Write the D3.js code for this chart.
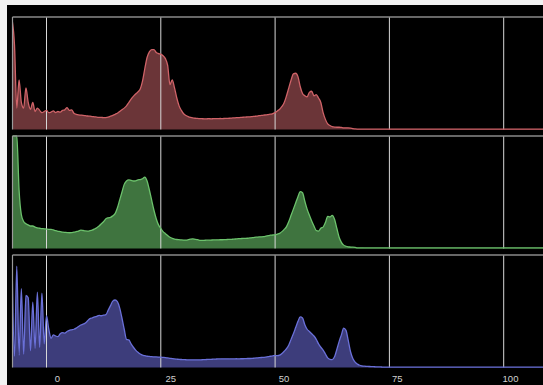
<!DOCTYPE html>
<html><head><meta charset="utf-8">
<script src="https://cdn.jsdelivr.net/npm/d3@7/dist/d3.min.js"></script>
<style>
html,body{margin:0;padding:0;background:#f2f2f2;}
svg{display:block;}
</style></head>
<body>
<svg id="chart" width="543" height="385"></svg>
<script>
// x sample positions: start and step (in axis units)
const sampleStart = -7.5;
const sampleStep = 0.5;
const domainEnd = 110;

const redValues = [97,75,19,44,24,19,37,24,18,24,16,19,17,15,16,17,15,15.5,16.5,15,
16,15.5,17,17.5,19.5,17,17.5,14.5,13.5,13,12.8,12.6,12.3,12,11.8,11.5,11.3,11,10.8,10.7,
10.6,10.6,11,11.8,12.5,13.5,14.5,16,17.5,19,21,24,27,29.5,31.5,33.5,36,43,54,64,
69,71,71,68.5,67.5,67,65.5,63,57,40,44,37,28,21,17,14,12.5,11.5,10.8,10.3,
10,9.8,9.7,9.6,9.5,9.5,9.6,9.5,9.6,9.7,9.6,9.8,9.7,9.8,9.9,10,10.2,10.3,10.5,10.6,
10.7,10.9,11,11.2,11.3,11.5,11.7,11.9,12.3,12.5,12.8,13,13.3,13.6,14.2,15,16.5,18,20.5,24,
30,37,44,49.5,50,47,38,32,30,29,33,34,30,31,28,24,15,9,5,3.5,
2.5,2.2,2,2,1.8,1.5,1.5,1.4,1.2,0.8,0.5,0.4,0.4,0.4,0.4,0.4,0.4,0.4,0.4,0.4,
0.4,0.4,0.4,0.4,0.4,0.4];

const greenValues = [100,100,100,52,30,24,22,21,20,20,19,18.3,18,17.7,17.5,17.2,17,17,16.5,15.8,
15.3,15,14.5,14.3,14.2,14,14.2,14.5,15,15.5,16.4,16,15.6,15.5,15.8,16.3,17.3,18.5,20,22,
24,26.5,27.3,27.7,29,31,36,43,50,57,60,61,60.5,60,60.2,61,61.3,62,63.5,60,
52,43,34,26.5,21,17.8,15,13.2,11.5,10,9,8.4,8,7.8,7.6,7.5,7.5,7.8,8.3,8.6,
8.2,7.8,7.3,7.2,7.3,7.4,7.4,7.5,7.6,7.6,7.7,7.8,7.8,7.9,8,8.1,8.2,8.3,8.5,8.7,
8.8,9,9,9.1,9.4,9.6,9.9,10.1,10.3,10.4,10.6,11,11.4,11.8,12,12.2,12.8,13.5,15,17,
19.5,24,29.5,35,40.5,46,50.5,49.5,42,35,29.5,24.5,20,16,15.5,18,19,23,28.5,28,
29.5,26,18,10,5.5,3,2,1.5,1.3,1.2,1,0.6,0.6,0.6,0.5,0.5,0.5,0.5,0.5,0.5,
0.5,0.5,0.5,0.5,0.5,0.5];

const blueValues = [86,10,90,11,70,12,64,62,15,58,17,67,18,66,21,46,34,26,29,28,
27.5,30,31,30.5,32,33,33.5,34,35,36.5,37.8,38.5,39.6,41.5,43.5,44,45,45.5,46.4,46,
46.5,47,51,55,59,60,58.5,53,44,34,25,24.5,21,18,15.5,13.5,12,11,10.5,10,
9.8,9.6,9.5,9.4,9.3,9.2,9,8.8,8.5,8.2,7.9,7.6,7.4,7.2,7.1,7,6.9,6.8,6.8,6.8,
6.8,6.8,6.8,6.9,7,7.1,7.2,7.3,7.4,7.5,7.6,7.6,7.7,7.7,7.7,7.6,7.7,7.7,7.8,7.7,
7.8,7.8,7.9,8,8,8.1,8.3,8.5,8.7,8.9,9,9.3,9.6,10,10.3,10.7,10.5,11,12.5,14.5,
16.7,20,25,30,35.5,41,45,44,38,34,32,30,28,25,21,18,15.5,12,8.5,7.2,
7,9.5,16,23,29,35,33,24,14,8,4.7,3,2,1.5,1.2,1,0.9,0.8,0.7,0.6,
0.5,0.5,0.4,0.4,0.4,0.3];

const tickValues = [0, 25, 50, 75, 100];

const seriesList = [
  {name: "red", values: redValues, fill: "#6b3538", stroke: "#cf6368"},
  {name: "green", values: greenValues, fill: "#3f743f", stroke: "#6cc26c"},
  {name: "blue", values: blueValues, fill: "#3d3d7b", stroke: "#6a70d8"}
];

const svg = d3.select("#chart");
// black plot background
svg.append("rect").attr("x", 7).attr("y", 5).attr("width", 536).attr("height", 380).attr("fill", "#000");

const left = 12.5, right = 543;
const x = d3.scaleLinear().domain([0, 100]).range([46.5, 503.7]);
const xLabel = d3.scaleLinear().domain([0, 100]).range([57.5, 510.5]);
const panelTops = [17, 136, 255];
const panelH = 112.5;

seriesList.forEach((s, k) => {
  const top = panelTops[k];
  const y = d3.scaleLinear().domain([0, 100]).range([top + panelH, top]);
  const pts = s.values.map((v, i) => [sampleStart + i * sampleStep, v]);
  pts.push([domainEnd, s.values[s.values.length - 1]]);
  const g = svg.append("g");
  const clipId = "clip" + k;
  svg.append("clipPath").attr("id", clipId).append("rect")
    .attr("x", left).attr("y", top - 1).attr("width", right - left).attr("height", panelH + 3);
  g.attr("clip-path", `url(#${clipId})`);
  g.append("path").datum(pts)
    .attr("fill", s.fill)
    .attr("d", d3.area().x(d => x(d[0])).y0(y(0)).y1(d => y(d[1])).curve(d3.curveMonotoneX));
  // grid lines
  g.selectAll("line.grid").data(tickValues).enter().append("line")
    .attr("x1", d => x(d)).attr("x2", d => x(d))
    .attr("y1", top).attr("y2", top + panelH)
    .attr("stroke", "#d8d8d8").attr("stroke-width", 1);
  g.append("path").datum(pts)
    .attr("fill", "none").attr("stroke", s.stroke).attr("stroke-width", 1.3)
    .attr("d", d3.line().x(d => x(d[0])).y(d => y(d[1])).curve(d3.curveMonotoneX));
  // panel frame (top and left)
  svg.append("line").attr("x1", left).attr("x2", right).attr("y1", top).attr("y2", top)
    .attr("stroke", "#8a8a8a").attr("stroke-width", 1.5);
  svg.append("line").attr("x1", left).attr("x2", left).attr("y1", top).attr("y2", top + panelH)
    .attr("stroke", "#9a9a9a").attr("stroke-width", 1.2);
});

// bottom axis labels
svg.append("g").selectAll("text").data(tickValues).enter().append("text")
  .attr("x", d => xLabel(d)).attr("y", 382)
  .attr("text-anchor", "middle")
  .attr("fill", "#d0d0d0")
  .attr("font-family", "Liberation Sans, Arial, sans-serif")
  .attr("font-size", 9.5)
  .text(d => d);
</script>
</body></html>
